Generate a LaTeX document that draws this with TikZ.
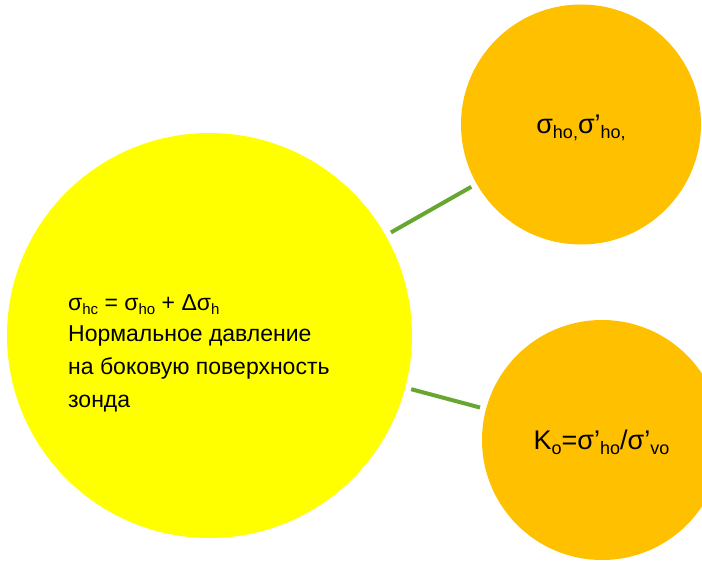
\documentclass[tikz,border=0pt]{standalone}
\usepackage{fontspec}
\setmainfont{Liberation Sans}
\newcommand\subA[1]{\raisebox{-4.5bp}{\fontsize{15bp}{15bp}\selectfont #1}}
\newcommand\subB[1]{\raisebox{-5.5bp}{\fontsize{18bp}{18bp}\selectfont #1}}
\definecolor{bigyellow}{RGB}{255,255,0}
\definecolor{smallorange}{RGB}{255,192,0}
\definecolor{linkgreen}{RGB}{104,166,50}
\tikzset{
  bubble/.style={circle, inner sep=0pt, draw=none},
  bigtxt/.style={anchor=base west, inner sep=0pt, font=\fontsize{23bp}{28bp}\selectfont},
  smalltxt/.style={anchor=base, inner sep=0pt, font=\fontsize{27bp}{32bp}\selectfont},
  link/.style={draw=linkgreen, line width=4bp, shorten <=6bp, shorten >=6bp}
}
\begin{document}
\begin{tikzpicture}[x=1bp, y=-1bp]
\useasboundingbox (0,0) rectangle (702,562);
\clip (0,0) rectangle (702,562);
\node[bubble, fill=bigyellow, minimum size=405bp] (big) at (209.5,335.5) {};
\node[bubble, fill=smallorange, minimum size=240bp] (top) at (581,124.5) {};
\node[bubble, fill=smallorange, minimum size=240bp] (bot) at (602,440) {};
\draw[link] (big) -- (top);
\draw[link] (big) -- (bot);
\node[bigtxt] (l1) at (68,310) {σ\subA{hc} = σ\subA{ho} + Δσ\subA{h}};
\node[bigtxt] (l2) at (68,341.5) {Нормальное давление};
\node[bigtxt] (l3) at (68,374.5) {на боковую поверхность};
\node[bigtxt] (l4) at (68,407) {зонда};
\node[smalltxt] (t1) at (581,133.5) {σ\subB{ho,}σ’\subB{ho,}};
\node[smalltxt] (t2) at (601.5,449.3) {K\subB{o}=σ’\subB{ho}/σ’\subB{vo}};
\end{tikzpicture}
\end{document}
